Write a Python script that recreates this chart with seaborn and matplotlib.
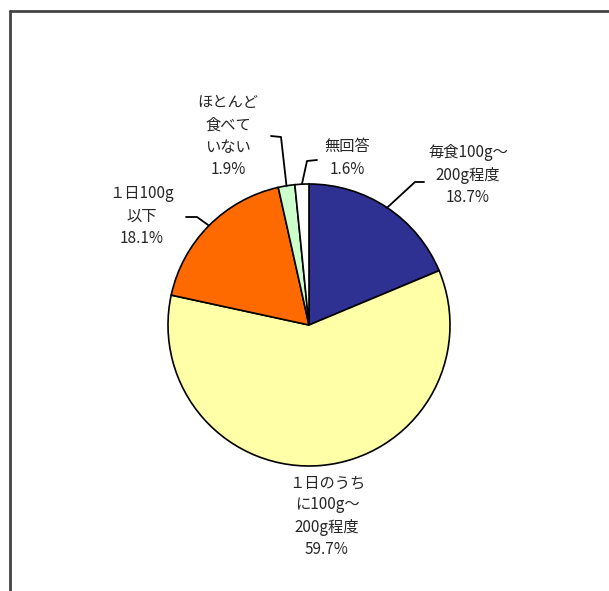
import numpy as np
import matplotlib
matplotlib.use("Agg")
import matplotlib.pyplot as plt
import seaborn as sns
from matplotlib.lines import Line2D

sns.set_theme(style="white")
plt.rcParams['font.family'] = ['Noto Sans CJK JP', 'DejaVu Sans']

# data (clockwise from 12 o'clock)
categories = ["毎食100g～\n200g程度", "１日のうち\nに100g～\n200g程度", "１日100g\n以下",
              "ほとんど\n食べて\nいない", "無回答"]
values = [18.7, 59.7, 18.1, 1.9, 1.6]
colors = ["#2E3192", "#FFFFA8", "#FF6A00", "#CCFFCC", "#FFFFFF"]

W, H = 609, 591
fig = plt.figure(figsize=(W / 100, H / 100), dpi=100)
fig.patch.set_facecolor("white")

cx, cy, r = 309, 325, 141
ax = fig.add_axes([(cx - r) / W, (H - cy - r) / H, 2 * r / W, 2 * r / H])
ax.pie(values, colors=colors, startangle=90, counterclock=False,
       wedgeprops=dict(edgecolor="black", linewidth=1.2))
ax.set_xlim(-1, 1)
ax.set_ylim(-1, 1)
ax.set_aspect("equal")
ax.axis("off")

def d(px, py):
    return ((px - cx) / r, (cy - py) / r)

# label layout: text centre, leader path (elbow, end) in pixels
layout = [
    dict(text=(468, 175), path=[(415, 182), (424, 182)]),
    dict(text=(327, 516), path=None),
    dict(text=(142, 216), path=[(197, 217), (186, 217)]),
    dict(text=(228, 136), path=[(281, 137), (271, 136)]),
    dict(text=(347, 158), path=[(307, 161), (317, 160)]),
]

total = sum(values)
cum = 0.0
for cat, v, lay in zip(categories, values, layout):
    mid = 90 - (cum + v / 2) / total * 360
    cum += v
    ex, ey = np.cos(np.radians(mid)), np.sin(np.radians(mid))
    label = f"{cat}\n{v:.1f}%"
    tx, ty = d(*lay["text"])
    ax.text(tx, ty, label, ha="center", va="center", fontsize=11,
            color="#262626", linespacing=1.4, clip_on=False)
    if lay["path"]:
        pts = [(ex, ey)] + [d(*p) for p in lay["path"]]
        xs, ys = zip(*pts)
        ax.plot(xs, ys, color="black", lw=1.3, clip_on=False)

# outer frame (left and top only visible)
fig.add_artist(Line2D([9.5 / W, 9.5 / W], [0, 1 - 11 / H], transform=fig.transFigure,
                      color="#444444", lw=2))
fig.add_artist(Line2D([9.5 / W, 1], [1 - 11 / H, 1 - 11 / H], transform=fig.transFigure,
                      color="#444444", lw=2))

fig.savefig("out.png", dpi=100, facecolor="white")
